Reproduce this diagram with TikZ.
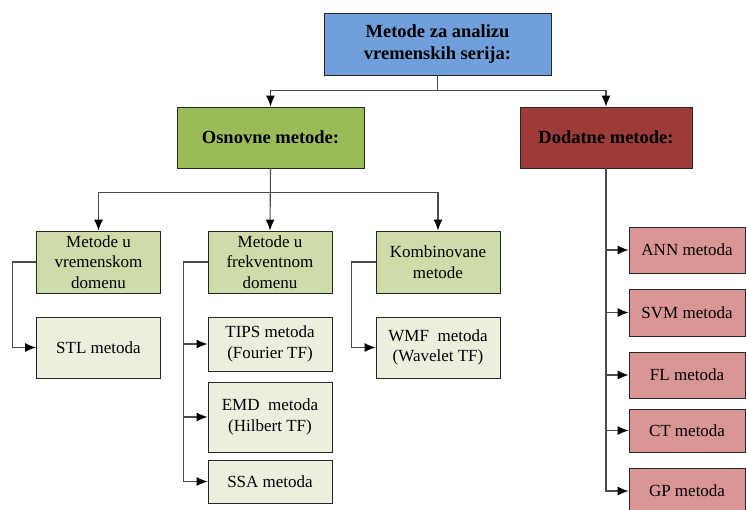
\documentclass[tikz,border=0pt]{standalone}
\usepackage{fontspec}
\setmainfont{Liberation Serif}
\usepackage{tikz}
\usetikzlibrary{positioning,arrows.meta,calc}
\definecolor{plava}{RGB}{112,160,220}
\definecolor{zelena}{RGB}{155,187,89}
\definecolor{crvena}{RGB}{157,59,54}
\definecolor{svijetlozelena}{RGB}{205,220,168}
\definecolor{blijedozelena}{RGB}{235,240,222}
\definecolor{roza}{RGB}{218,150,148}

\begin{document}
\begin{tikzpicture}[
    x=1pt, y=1pt,
    >={Latex[length=11pt,width=9pt,black]},
    linija/.style={draw=black!70, line width=1.1pt},
    veza/.style={linija, ->},
    kutija/.style={rectangle, draw=black!85, line width=0.9pt, align=center, inner sep=0pt, font=\fontsize{17}{20.5}\selectfont},
    naslov/.style={kutija, fill=plava, minimum width=227pt, minimum height=62pt, font=\fontsize{18.5}{22}\selectfont\bfseries},
    osnova/.style={kutija, fill=zelena, minimum width=187pt, minimum height=61pt, font=\fontsize{18.5}{22}\selectfont\bfseries},
    dodatak/.style={kutija, fill=crvena, minimum width=172pt, minimum height=61pt, font=\fontsize{18.5}{22}\selectfont\bfseries},
    grupa/.style={kutija, fill=svijetlozelena, minimum width=124pt, minimum height=62pt},
    list/.style={kutija, fill=blijedozelena, minimum width=124pt},
    crveni/.style={kutija, fill=roza, minimum width=116pt}
    ]
\useasboundingbox (0,0) rectangle (746,-509);

%Upper part
\node[naslov] (top) at (437.5,-44) {Metode za analizu\\vremenskih serija:};
\node[osnova] (osn) at (270.5,-137.5) {Osnovne metode:};
\node[dodatak] (dod) at (606,-137.5) {Dodatne metode:};

%Osnovne, lv2
\node[grupa] (vrem) at (98.5,-262) {Metode u\\vremenskom\\domenu};
\node[grupa] (frek) at (270,-262) {Metode u\\frekventnom\\domenu};
\node[grupa] (komb) at (438,-262) {Kombinovane\\metode};

%Osnovne, lv3
\node[list, minimum height=61pt] (stl) at (98.5,-347.5) {STL metoda};
\node[list, minimum height=54pt] (tips) at (270,-344) {TIPS metoda\\(Fourier TF)};
\node[list, minimum height=70pt] (emd) at (270,-417) {EMD\ \ metoda\\(Hilbert TF)};
\node[list, minimum height=43pt] (ssa) at (270,-481.5) {SSA metoda};
\node[list, minimum height=61pt] (wmf) at (438,-347.5) {WMF\ \ metoda\\(Wavelet TF)};

%Dodatne, lv2
\node[crveni, minimum height=46pt] (ann) at (687,-250) {ANN metoda};
\node[crveni, minimum height=47pt] (svm) at (687,-312.5) {SVM metoda};
\node[crveni, minimum height=46pt] (fl) at (687,-375) {FL metoda};
\node[crveni, minimum height=43pt] (ct) at (687,-430.5) {CT metoda};
\node[crveni, minimum height=46pt] (gp) at (687,-491) {GP metoda};

\coordinate (r1) at ($(top.south)+(0,-15)$);
\coordinate (r2) at ($(osn.south)+(0,-24)$);
\coordinate (k1) at ($(frek.west)+(-24,0)$);

\draw[linija] (top.south) -- (r1);
\draw[veza] (r1) -| (osn.north);
\draw[veza] (r1) -| (dod.north);

\draw[veza] (osn.south) -- (frek.north);
\draw[veza] (r2) -| (vrem.north);
\draw[veza] (r2) -| (komb.north);

\draw[veza] (vrem.west) -- ++(-24,0) |- (stl.west);
\draw[veza] (komb.west) -- ++(-24,0) |- (wmf.west);
\draw[veza] (frek.west) -- (k1) |- (ssa.west);
\draw[veza] (k1 |- tips.west) -- (tips.west);
\draw[veza] (k1 |- emd.west) -- (emd.west);

\draw[veza] (dod.south) |- (gp.west);
\foreach \m in {ann,svm,fl,ct}
    \draw[veza] (dod.south |- \m.west) -- (\m.west);
\end{tikzpicture}
\end{document}
